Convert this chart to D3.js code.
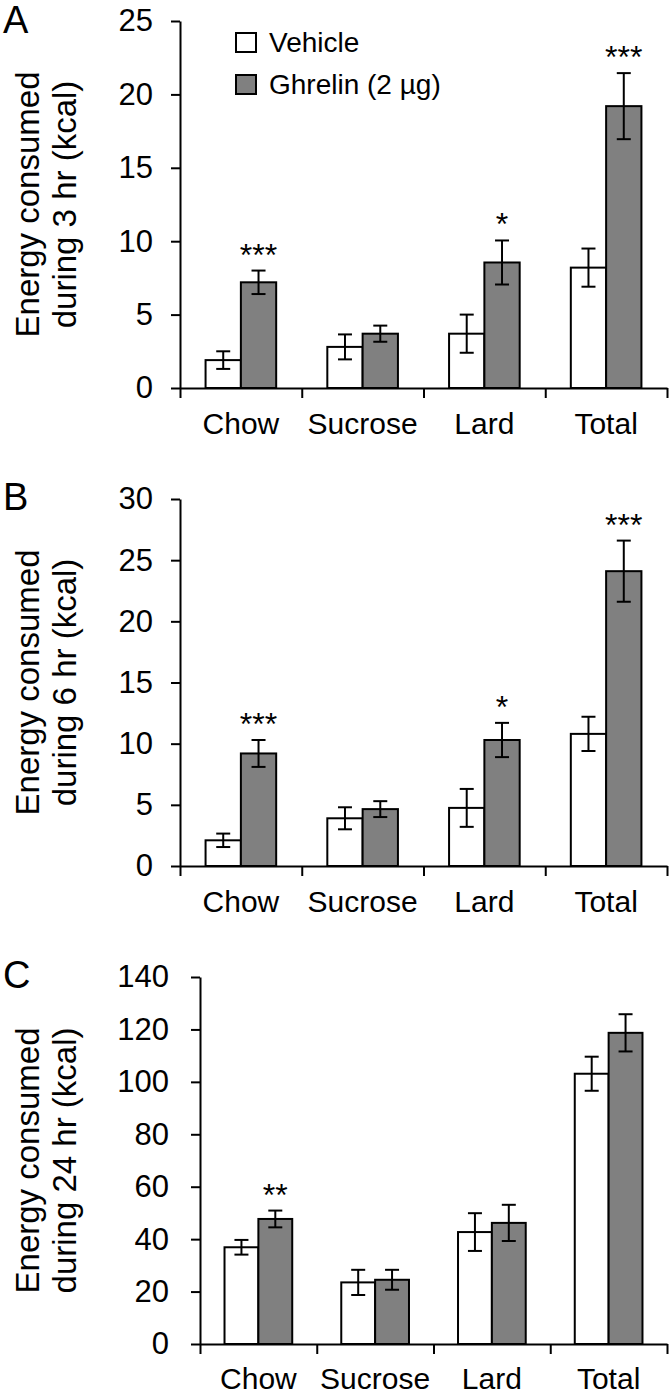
<!DOCTYPE html>
<html>
<head>
<meta charset="utf-8">
<script src="https://cdn.jsdelivr.net/npm/d3@7"></script>
<style>
  html, body { margin: 0; padding: 0; background: #fff; }
  svg text { font-family: "Liberation Sans", Arial, Helvetica, sans-serif; fill: #000; }
</style>
</head>
<body>
<svg id="chart" width="672" height="1394"></svg>
<script>
// ---------- data ----------
const categories = ["Chow", "Sucrose", "Lard", "Total"];
const seriesNames = ["Vehicle", "Ghrelin (2 µg)"];

// Panel A: 3 hr
const vehicle3 = [1.9, 2.8, 3.7, 8.2];
const vehicle3Err = [0.6, 0.85, 1.3, 1.3];
const ghrelin3 = [7.2, 3.7, 8.55, 19.2];
const ghrelin3Err = [0.8, 0.55, 1.5, 2.25];
const sig3 = ["***", "", "*", "***"];
const ticks3 = [0, 5, 10, 15, 20, 25];

// Panel B: 6 hr
const vehicle6 = [2.1, 3.9, 4.75, 10.8];
const vehicle6Err = [0.55, 0.9, 1.55, 1.4];
const ghrelin6 = [9.2, 4.65, 10.3, 24.1];
const ghrelin6Err = [1.1, 0.65, 1.4, 2.5];
const sig6 = ["***", "", "*", "***"];
const ticks6 = [0, 5, 10, 15, 20, 25, 30];

// Panel C: 24 hr
const vehicle24 = [36.9, 23.5, 42.7, 103.1];
const vehicle24Err = [2.8, 4.8, 7.2, 6.5];
const ghrelin24 = [47.7, 24.5, 46.2, 118.7];
const ghrelin24Err = [3.2, 3.8, 6.9, 7.1];
const sig24 = ["**", "", "", ""];
const ticks24 = [0, 20, 40, 60, 80, 100, 120, 140];

// ---------- drawing ----------
const svg = d3.select("#chart");
const GRAY = "#808080";
const SW = 2;

function panel(opts) {
  const { letter, x0, x1, yTop, yBot, ticks, veh, vehErr, ghr, ghrErr, sig, hours, legend } = opts;
  const g = svg.append("g");
  const y = d3.scaleLinear().domain([0, ticks[ticks.length - 1]]).range([yBot, yTop]);
  const xb = d3.scaleBand().domain(categories).range([x0, x1]).padding(0);
  const xEdge = d3.scaleLinear().domain([0, categories.length]).range([x0, x1]);
  const bw = xb.bandwidth() * 0.29;

  // y axis
  const ya = g.append("g").attr("transform", `translate(${x0},0)`)
    .call(d3.axisLeft(y).tickValues(ticks).tickSize(9).tickSizeOuter(0).tickPadding(opts.tickPad));
  ya.select(".domain").attr("stroke-width", SW);
  ya.selectAll(".tick line").attr("stroke-width", SW);
  ya.selectAll(".tick text").style("font-size", "31px").attr("font-family", null);

  // x axis (ticks at category boundaries)
  const xa = g.append("g").attr("transform", `translate(0,${yBot})`)
    .call(d3.axisBottom(xEdge).tickValues(d3.range(categories.length + 1)).tickSize(10).tickSizeOuter(0).tickFormat(""));
  xa.select(".domain").attr("stroke-width", SW);
  xa.selectAll(".tick line").attr("stroke-width", SW);

  // category labels
  const xl = g.append("g").attr("transform", `translate(0,${yBot})`)
    .call(d3.axisBottom(xb).tickSize(0).tickPadding(opts.labelPad));
  xl.select(".domain").remove();
  xl.selectAll(".tick text").style("font-size", "30px").attr("font-family", null);

  const rows = categories.map((c, i) => ({ c, veh: veh[i], vehErr: vehErr[i], ghr: ghr[i], ghrErr: ghrErr[i], sig: sig[i] }));
  const cx = d => xb(d.c) + xb.bandwidth() / 2;

  // bars
  g.selectAll(".bv").data(rows).join("rect")
    .attr("x", d => cx(d) - bw).attr("y", d => y(d.veh))
    .attr("width", bw).attr("height", d => y(0) - y(d.veh))
    .attr("fill", "#fff").attr("stroke", "#000").attr("stroke-width", SW);
  g.selectAll(".bg").data(rows).join("rect")
    .attr("x", d => cx(d)).attr("y", d => y(d.ghr))
    .attr("width", bw).attr("height", d => y(0) - y(d.ghr))
    .attr("fill", GRAY).attr("stroke", "#000").attr("stroke-width", SW);

  // error bars
  const errs = [];
  rows.forEach(d => {
    errs.push({ x: cx(d) - bw / 2, v: d.veh, e: d.vehErr });
    errs.push({ x: cx(d) + bw / 2, v: d.ghr, e: d.ghrErr });
  });
  const cap = 7;
  const eg = g.selectAll(".err").data(errs).join("g");
  eg.append("line").attr("x1", d => d.x).attr("x2", d => d.x)
    .attr("y1", d => y(d.v - d.e)).attr("y2", d => y(d.v + d.e))
    .attr("stroke", "#000").attr("stroke-width", SW);
  eg.append("line").attr("x1", d => d.x - cap).attr("x2", d => d.x + cap)
    .attr("y1", d => y(d.v + d.e)).attr("y2", d => y(d.v + d.e))
    .attr("stroke", "#000").attr("stroke-width", SW);
  eg.append("line").attr("x1", d => d.x - cap).attr("x2", d => d.x + cap)
    .attr("y1", d => y(d.v - d.e)).attr("y2", d => y(d.v - d.e))
    .attr("stroke", "#000").attr("stroke-width", SW);

  // significance
  g.selectAll(".sig").data(rows.filter(d => d.sig)).join("text")
    .attr("x", d => cx(d) + bw / 2).attr("y", d => y(d.ghr + d.ghrErr) - 5)
    .attr("text-anchor", "middle").style("font-size", "32px").text(d => d.sig);

  // panel letter
  g.append("text").attr("x", 3).attr("y", opts.letterY).style("font-size", "38px").text(letter);

  // y title
  const mid = (yTop + yBot) / 2;
  const t = g.append("text").attr("transform", `translate(0,${mid}) rotate(-90)`)
    .attr("text-anchor", "middle").style("font-size", "33px");
  t.append("tspan").attr("x", 0).attr("y", 39).text("Energy consumed");
  t.append("tspan").attr("x", 0).attr("y", 76).text(`during ${hours} hr (kcal)`);

  if (legend) {
    const lg = g.append("g");
    const items = [{ name: seriesNames[0], fill: "#fff" }, { name: seriesNames[1], fill: GRAY }];
    items.forEach((it, i) => {
      const yy = 33 + i * 42;
      lg.append("rect").attr("x", 236).attr("y", yy).attr("width", 20).attr("height", 19)
        .attr("fill", it.fill).attr("stroke", "#000").attr("stroke-width", SW);
      lg.append("text").attr("x", 269).attr("y", yy + 19).style("font-size", "28px").text(it.name);
    });
  }
}

panel({ letter: "A", letterY: 33, x0: 180, x1: 667, yTop: 21, yBot: 388, ticks: ticks3, tickPad: 18, labelPad: 25,
  veh: vehicle3, vehErr: vehicle3Err, ghr: ghrelin3, ghrErr: ghrelin3Err, sig: sig3, hours: 3, legend: true });
panel({ letter: "B", letterY: 510, x0: 180, x1: 667, yTop: 499, yBot: 866, ticks: ticks6, tickPad: 18, labelPad: 25,
  veh: vehicle6, vehErr: vehicle6Err, ghr: ghrelin6, ghrErr: ghrelin6Err, sig: sig6, hours: 6, legend: false });
panel({ letter: "C", letterY: 988, x0: 200, x1: 667, yTop: 977, yBot: 1344, ticks: ticks24, tickPad: 22, labelPad: 24,
  veh: vehicle24, vehErr: vehicle24Err, ghr: ghrelin24, ghrErr: ghrelin24Err, sig: sig24, hours: 24, legend: false });
</script>
</body>
</html>
